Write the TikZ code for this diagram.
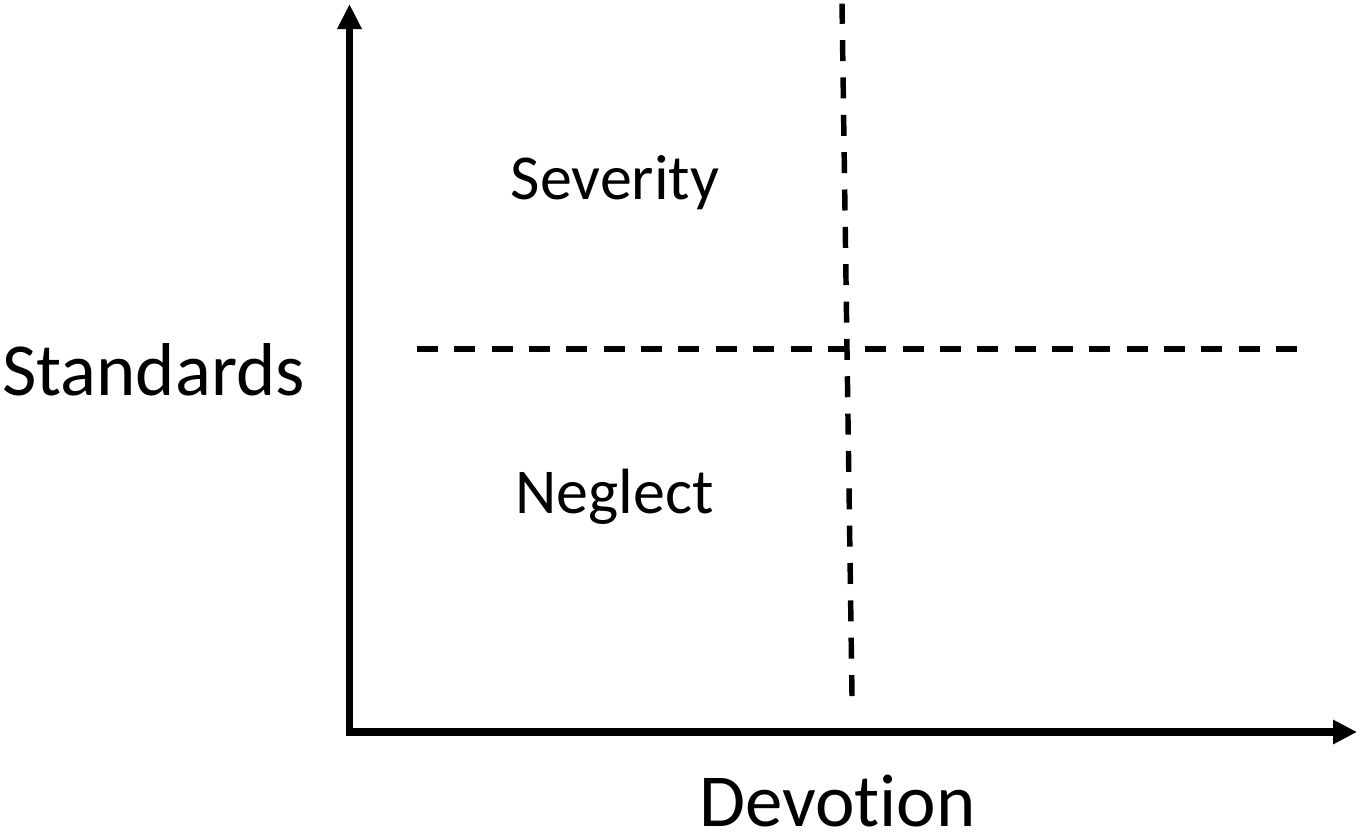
\documentclass[tikz,border=0pt]{standalone}
\usepackage{fontspec}
\setmainfont{Carlito}[Ligatures=NoCommon]
\usepackage{tikz}
\usetikzlibrary{arrows.meta, calc, positioning}

\tikzset{
  axisline/.style={line width=2.1pt, line join=miter, {Triangle[length=0.25cm,width=0.23cm]}-{Triangle[length=0.24cm,width=0.23cm]}},
  divider/.style={line width=1.55pt, dash pattern=on 0.21cm off 0.1635cm},
  axislabel/.style={anchor=base, inner sep=0pt, font=\fontsize{21.3}{25}\selectfont},
  quadlabel/.style={anchor=base, inner sep=0pt, font=\fontsize{18.2}{22}\selectfont}
}

\begin{document}
\begin{tikzpicture}
            \useasboundingbox (0,0) rectangle (13.6,8.33);
            % axes
            \coordinate (origin) at (3.495,1.01);
            \coordinate (ytop) at (3.495,8.29);
            \coordinate (xend) at (13.57,1.01);
            \draw[axisline] (ytop) -- (origin) -- (xend);
            % quadrant dividers
            \coordinate (hleft) at (4.17,4.84);
            \coordinate (hright) at (12.97,4.84);
            \coordinate (vbottom) at (8.52,1.37);
            \coordinate (vtop) at (8.42,8.294);
            \draw[divider] (hleft) -- (hright);
            \draw[divider] (vbottom) -- (vtop);
            % labels
            \node[axislabel] (standards) at (1.535,4.38) {Standards};
            \node[axislabel] (devotion) at (8.375,0.065) {Devotion};
            \node[quadlabel] (severity) at (6.15,6.34) {Severity};
            \node[quadlabel] (neglect) at (6.145,3.20) {Neglect};
        \end{tikzpicture}
\end{document}
